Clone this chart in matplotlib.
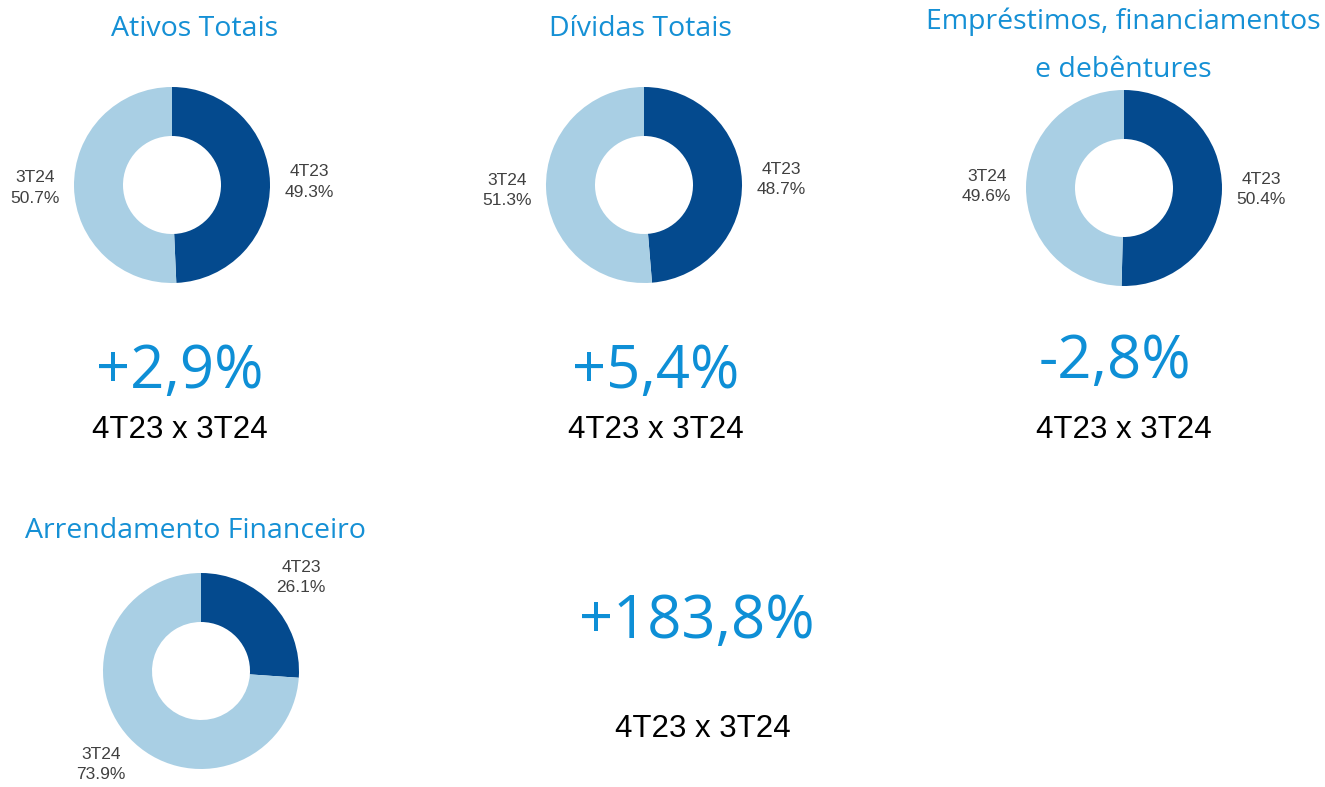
import matplotlib.pyplot as plt

W, H = 1325, 787

titles = ["Ativos Totais", "Dívidas Totais",
          "Empréstimos, financiamentos\ne debêntures", "Arrendamento Financeiro"]
segment_labels = ["4T23", "3T24"]
shares = [
    [49.3, 50.7],
    [48.7, 51.3],
    [50.4, 49.6],
    [26.1, 73.9],
]
variations = ["+2,9%", "+5,4%", "-2,8%", "+183,8%"]
period = "4T23 x 3T24"

DARK = "#044A8E"
LIGHT = "#A9CFE4"
TITLE_BLUE = "#1590D5"
BIG_BLUE = "#0E8FD6"

# donut centres / radius in pixels (layout)
centers = [(172, 185), (644, 185), (1124, 188), (201, 671)]
radius = 98
title_pos = [(195, 29), (640, 29), (1123, 46), (195, 531)]
var_pos = [(180, 372), (656, 372), (1115, 362), (697, 622)]
period_pos = [(180, 430), (656, 430), (1124, 430), (703, 729)]


def fx(x):
    return x / W


def fy(y):
    return 1 - y / H


fig = plt.figure(figsize=(W / 100, H / 100), dpi=100)
fig.patch.set_facecolor("white")

L = 1.6
side = 2 * L * radius
for (cx, cy), vals in zip(centers, shares):
    ax = fig.add_axes([(cx - side / 2) / W, (H - cy - side / 2) / H, side / W, side / H])
    labels = [f"{n}\n{v:.1f}%" for n, v in zip(segment_labels, vals)]
    ax.pie(vals, labels=labels, colors=[DARK, LIGHT], startangle=90, counterclock=False,
           wedgeprops=dict(width=0.5, linewidth=0),
           labeldistance=1.4,
           textprops=dict(ha="center", va="center", fontsize=12.5, color="#404040",
                          family="Liberation Sans", linespacing=1.45))
    ax.set_xlim(-L, L)
    ax.set_ylim(-L, L)
    ax.set_aspect("equal")
    ax.axis("off")

for (x, y), t in zip(title_pos, titles):
    fig.text(fx(x), fy(y), t, ha="center", va="center", fontsize=20.5, color=TITLE_BLUE,
             family="Open Sans", linespacing=1.95)

for (x, y), v in zip(var_pos, variations):
    fig.text(fx(x), fy(y), v, ha="center", va="center", fontsize=43, color=BIG_BLUE,
             family="Open Sans")

for (x, y) in period_pos:
    fig.text(fx(x), fy(y), period, ha="center", va="center", fontsize=22.5, color="black",
             family="Liberation Sans")

fig.savefig("out.png", dpi=100, facecolor="white")
